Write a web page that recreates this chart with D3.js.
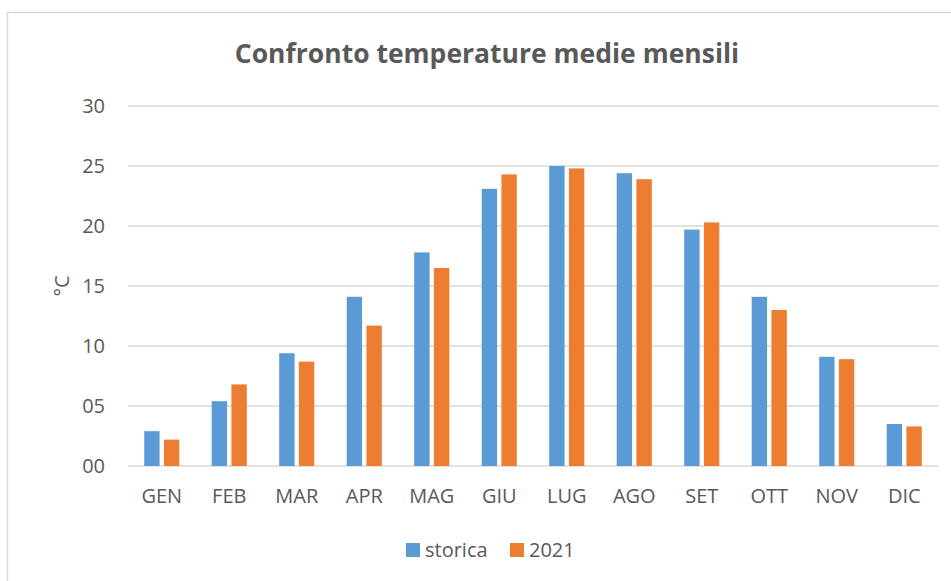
<!DOCTYPE html>
<html>
<head>
<meta charset="utf-8">
<script src="https://cdn.jsdelivr.net/npm/d3@7"></script>
<style>
  body { margin: 0; background: #fff; }
  svg { display: block; font-family: "Open Sans", sans-serif; }
</style>
</head>
<body>
<svg width="951" height="581"></svg>
<script>
var months = ["GEN", "FEB", "MAR", "APR", "MAG", "GIU", "LUG", "AGO", "SET", "OTT", "NOV", "DIC"];
var series = ["storica", "2021"];
var storica = [2.9, 5.4, 9.4, 14.1, 17.8, 23.1, 25.0, 24.4, 19.7, 14.1, 9.1, 3.5];
var anno2021 = [2.2, 6.8, 8.7, 11.7, 16.5, 24.3, 24.8, 23.9, 20.3, 13.0, 8.9, 3.3];
var yTicks = [0, 5, 10, 15, 20, 25, 30];
var colors = ["#5B9BD5", "#ED7D31"];

var svg = d3.select("svg");
var textColor = "#595959";

// chart area border (runs off the right edge like the original)
svg.append("rect")
  .attr("x", 7.5).attr("y", 12.5)
  .attr("width", 965).attr("height", 600)
  .attr("fill", "none")
  .attr("stroke", "#d9d9d9")
  .attr("stroke-width", 1.5);

var plotLeft = 128, plotRight = 938, plotTop = 106, plotBottom = 466;

var x0 = d3.scaleBand().domain(months).range([plotLeft, plotRight]);
var x1 = d3.scaleBand().domain(series)
  .range([x0.bandwidth() * 0.24, x0.bandwidth() * 0.76])
  .paddingInner(0.22);
var y = d3.scaleLinear().domain([0, 30]).range([plotBottom, plotTop]);

// gridlines
svg.append("g")
  .selectAll("line")
  .data(yTicks)
  .enter().append("line")
  .attr("x1", plotLeft).attr("x2", plotRight)
  .attr("y1", d => y(d)).attr("y2", d => y(d))
  .attr("stroke", "#d9d9d9")
  .attr("stroke-width", 1.5);

// y axis labels
var yAxis = svg.append("g")
  .attr("transform", "translate(" + (plotLeft - 23) + ",0)")
  .call(d3.axisLeft(y).tickValues(yTicks).tickFormat(d3.format("02d")).tickSize(0).tickPadding(0));
yAxis.select(".domain").remove();
yAxis.selectAll("text")
  .attr("fill", textColor)
  .style("font-size", "20px")
  .style("font-family", "'Open Sans', sans-serif");

// x axis labels
var xAxis = svg.append("g")
  .attr("transform", "translate(0," + plotBottom + ")")
  .call(d3.axisBottom(x0).tickSize(0).tickPadding(23));
xAxis.select(".domain").remove();
xAxis.selectAll("text")
  .attr("fill", textColor)
  .style("font-size", "20px")
  .style("font-family", "'Open Sans', sans-serif");

// bars
var rows = months.map(function(m, i) {
  return { month: m, values: [storica[i], anno2021[i]] };
});

var groups = svg.append("g")
  .selectAll("g")
  .data(rows)
  .enter().append("g")
  .attr("transform", d => "translate(" + x0(d.month) + ",0)");

groups.selectAll("rect")
  .data(d => d.values.map((v, j) => ({ key: series[j], value: v, i: j })))
  .enter().append("rect")
  .attr("x", d => x1(d.key))
  .attr("width", x1.bandwidth())
  .attr("y", d => y(d.value))
  .attr("height", d => y(0) - y(d.value))
  .attr("fill", d => colors[d.i]);

// title
svg.append("text")
  .attr("x", 487).attr("y", 63)
  .attr("text-anchor", "middle")
  .attr("fill", textColor)
  .style("font-size", "26.5px")
  .style("font-weight", "bold")
  .text("Confronto temperature medie mensili");

// y axis title
svg.append("text")
  .attr("transform", "translate(69,286) rotate(-90)")
  .attr("text-anchor", "middle")
  .attr("fill", textColor)
  .style("font-size", "20px")
  .text("°C");

// legend
var legend = svg.append("g")
  .selectAll("g")
  .data(series)
  .enter().append("g")
  .attr("transform", (d, i) => "translate(" + [406, 510][i] + ",543)");

legend.append("rect")
  .attr("width", 14).attr("height", 14)
  .attr("fill", (d, i) => colors[i]);

legend.append("text")
  .attr("x", 19).attr("y", 14)
  .attr("fill", textColor)
  .style("font-size", "20px")
  .text(d => d);
</script>
</body>
</html>
